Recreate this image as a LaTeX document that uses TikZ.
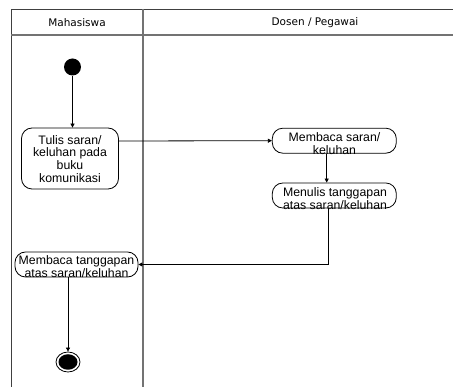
\documentclass[tikz,border=0pt]{standalone}
\usepackage{fontspec}
\setmainfont{Liberation Sans}
\newfontfamily\headfont{DejaVu Sans}
\usetikzlibrary{arrows.meta,positioning,shapes.geometric}

\tikzset{
  lane/.style={draw=black!75, line width=0.9pt},
  lanesep/.style={draw=black!55, line width=1.3pt},
  headtxt/.style={font=\headfont\fontsize{10.5}{12}\selectfont, inner sep=0pt},
  actbox/.style={draw=black, line width=0.8pt, rounded corners=10.5pt, inner sep=0pt},
  acttxt/.style={font=\fontsize{12.3}{12.9}\selectfont, align=center, inner sep=0pt},
  flow/.style={draw=black, line width=0.8pt},
  flowarr/.style={flow, -{Triangle[length=4pt,width=4pt]}},
  startdot/.style={circle, fill=black, minimum size=17pt, inner sep=0pt},
}

\begin{document}
\begin{tikzpicture}[x=1pt, y=-1pt]
  \useasboundingbox (0,0) rectangle (453,387);

  % swimlane frame
  \draw[lane] (453,9) -- (11,9) -- (11,387);
  \draw[lanesep] (11,35) -- (453,35);
  \draw[lanesep] (143,9) -- (143,387);
  \node[headtxt] (hmhs) at (77,22.5) {Mahasiswa};
  \node[headtxt] (hdos) at (315,22.5) {Dosen / Pegawai};

  % initial node
  \node[startdot] (start) at (72.5,67) {};

  % actions
  \node[actbox, minimum width=97pt, minimum height=61pt] (tulis) at (70,158.5) {};
  \node[acttxt] (tulist) at (70,159) {Tulis saran/\\keluhan pada\\buku\\komunikasi};

  \node[actbox, minimum width=124pt, minimum height=25pt] (baca) at (334.3,140.7) {};
  \node[acttxt] (bacat) at (334.5,143.5) {Membaca saran/\\keluhan};

  \node[actbox, minimum width=124pt, minimum height=25pt] (tulisjwb) at (334.3,195.5) {};
  \node[acttxt] (tulisjwbt) at (335,198.5) {Menulis tanggapan\\atas saran/keluhan};

  \node[actbox, minimum width=123pt, minimum height=25pt] (bacajwb) at (76.5,264.5) {};
  \node[acttxt] (bacajwbt) at (76.5,267) {Membaca tanggapan\\atas saran/keluhan};

  % final node
  \node[draw=black, line width=0.8pt, ellipse, minimum width=24pt, minimum height=20pt, inner sep=0pt] (final) at (68,362) {};
  \node[fill=black, ellipse, minimum width=19pt, minimum height=15.5pt, inner sep=0pt] (finalin) at (68,362) {};

  % control flow
  \draw[flowarr] (start) -- (start |- tulis.north);
  \draw[flowarr] (tulis.east |- 0,141) -- (baca.west);
  \draw[flowarr] (326.7,0 |- baca.south) -- (326.7,0 |- tulisjwb.north);
  \draw[flowarr] (328,0 |- tulisjwb.south) |- (bacajwb.east);
  \draw[flowarr] (68,0 |- bacajwb.south) -- (final.north);
\end{tikzpicture}
\end{document}
